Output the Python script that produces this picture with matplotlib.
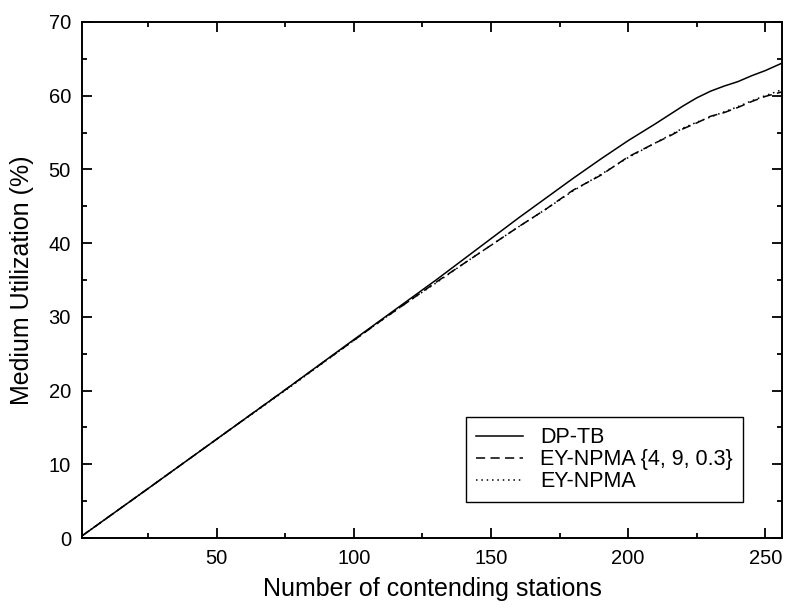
import matplotlib
matplotlib.use("Agg")
import matplotlib.pyplot as plt
from matplotlib.ticker import MultipleLocator

plt.rcParams['font.family'] = ['Liberation Sans', 'DejaVu Sans']

# number of contending stations
stations = [1, 25, 50, 75, 100, 110, 120, 130, 140, 150, 160, 170, 180,
            190, 200, 210, 215, 220, 225, 230, 235, 240, 245, 250, 256]

dp_tb = [0.3, 6.7, 13.4, 20.1, 26.9, 29.6, 32.3, 35.0, 37.8, 40.6, 43.4,
         46.1, 48.8, 51.4, 53.9, 56.2, 57.4, 58.6, 59.7, 60.6, 61.3, 61.9,
         62.7, 63.4, 64.4]

ey_npma_opt = [0.3, 6.7, 13.4, 20.1, 26.8, 29.5, 32.1, 34.7, 37.2, 39.7,
               42.2, 44.6, 47.2, 49.2, 51.7, 53.6, 54.5, 55.5, 56.3, 57.2,
               57.7, 58.4, 59.2, 59.9, 60.5]

ey_npma = [0.3, 6.7, 13.4, 20.0, 26.8, 29.5, 32.1, 34.6, 37.2, 39.7,
           42.2, 44.6, 47.1, 49.3, 51.6, 53.6, 54.6, 55.6, 56.4, 57.1,
           57.8, 58.5, 59.3, 60.0, 60.8]

fig = plt.figure(figsize=(7.85, 6.08), dpi=100)
ax = fig.add_axes([0.1045, 0.115, 0.8915, 0.849])

ax.plot(stations, dp_tb, color="black", lw=1.1, linestyle="-", label="DP-TB")
ax.plot(stations, ey_npma_opt, color="black", lw=1.1, linestyle=(0, (6, 3.5)),
        label="EY-NPMA {4, 9, 0.3}")
ax.plot(stations, ey_npma, color="black", lw=1.1, linestyle=(0, (1, 2.5)),
        label="EY-NPMA")

ax.set_xlim(1, 256)
ax.set_ylim(0, 70)
ax.xaxis.set_major_locator(MultipleLocator(50))
ax.xaxis.set_minor_locator(MultipleLocator(25))
ax.yaxis.set_major_locator(MultipleLocator(10))
ax.yaxis.set_minor_locator(MultipleLocator(5))

ax.tick_params(which="both", direction="in", top=True, right=True,
               width=1.3, labelsize=14.5)
ax.tick_params(which="major", length=7)
ax.tick_params(which="minor", length=3.6)
ax.tick_params(axis="x", which="major", pad=8)
ax.tick_params(axis="y", which="major", pad=8)
for s in ax.spines.values():
    s.set_linewidth(1.4)

ax.set_xlabel("Number of contending stations", fontsize=18)
ax.set_ylabel("Medium Utilization (%)", fontsize=18)
ax.xaxis.set_label_coords(0.5, -0.075)
ax.yaxis.set_label_coords(-0.068, 0.5)

leg = ax.legend(loc="lower right", bbox_to_anchor=(0.944, 0.07),
                fontsize=15.5, frameon=True, fancybox=False, edgecolor="black",
                framealpha=1, handlelength=2.2, handletextpad=0.8,
                borderpad=0.45, labelspacing=0.05, borderaxespad=0)
leg.get_frame().set_linewidth(1.0)

fig.savefig("out.png", dpi=100)
